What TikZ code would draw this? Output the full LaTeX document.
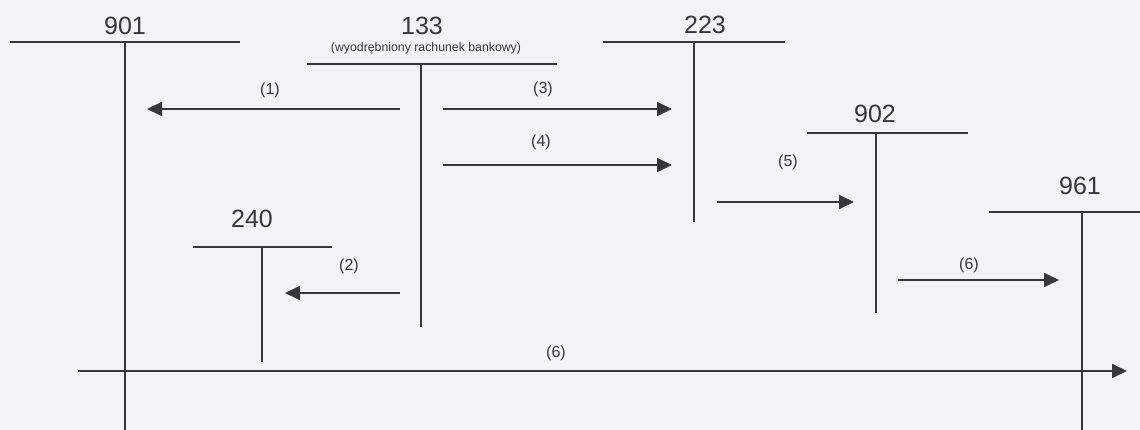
\documentclass[tikz,border=0pt]{standalone}
\usepackage{fontspec}
\setmainfont{Liberation Sans}
\usetikzlibrary{arrows.meta}
\definecolor{paper}{RGB}{243,243,245}
\definecolor{ink}{RGB}{55,55,58}
\begin{document}
\begin{tikzpicture}[x=1pt,y=-1pt,
  acc/.style={draw=ink,line width=1.8pt},
  flow/.style={draw=ink,line width=1.8pt,-{Triangle[length=15pt,width=14pt]}},
  num/.style={anchor=base,inner sep=0pt,text=ink,font=\fontsize{25}{25}\selectfont},
  lab/.style={anchor=base,inner sep=0pt,text=ink,font=\fontsize{16}{16}\selectfont},
  subt/.style={anchor=base,inner sep=0pt,text=ink,font=\fontsize{12.3}{12.3}\selectfont}
]
\fill[paper] (0,0) rectangle (1140,430);
\useasboundingbox (0,0) rectangle (1140,430);

% account 901
\coordinate (a901L) at (10,42);
\coordinate (a901R) at (240,42);
\coordinate (a901T) at (125,42);
\coordinate (a901B) at (125,430);
\draw[acc] (a901L) -- (a901R);
\draw[acc] (a901T) -- (a901B);
\node[num] (t901) at (125,35) {901};

% account 133
\coordinate (a133L) at (307,64);
\coordinate (a133R) at (557,64);
\coordinate (a133T) at (421,64);
\coordinate (a133B) at (421,327);
\draw[acc] (a133L) -- (a133R);
\draw[acc] (a133T) -- (a133B);
\node[num] (t133) at (422,35) {133};
\node[subt] (s133) at (426,52) {(wyodrębniony rachunek bankowy)};

% account 223
\coordinate (a223L) at (603,42);
\coordinate (a223R) at (785,42);
\coordinate (a223T) at (694,42);
\coordinate (a223B) at (694,222);
\draw[acc] (a223L) -- (a223R);
\draw[acc] (a223T) -- (a223B);
\node[num] (t223) at (705,34) {223};

% account 902
\coordinate (a902L) at (807,133);
\coordinate (a902R) at (968,133);
\coordinate (a902T) at (876,133);
\coordinate (a902B) at (876,313);
\draw[acc] (a902L) -- (a902R);
\draw[acc] (a902T) -- (a902B);
\node[num] (t902) at (875,123) {902};

% account 961
\coordinate (a961L) at (989,212);
\coordinate (a961R) at (1140,212);
\coordinate (a961T) at (1082,212);
\coordinate (a961B) at (1082,430);
\draw[acc] (a961L) -- (a961R);
\draw[acc] (a961T) -- (a961B);
\node[num] (t961) at (1080,195) {961};

% account 240
\coordinate (a240L) at (193,247);
\coordinate (a240R) at (332,247);
\coordinate (a240T) at (262,247);
\coordinate (a240B) at (262,362);
\draw[acc] (a240L) -- (a240R);
\draw[acc] (a240T) -- (a240B);
\node[num] (t240) at (252,228) {240};

% flows
\coordinate (f1s) at (400,109); \coordinate (f1e) at (147,109);
\draw[flow] (f1s) -- (f1e);
\node[lab] (l1) at (270,95) {(1)};

\coordinate (f3s) at (443,109); \coordinate (f3e) at (672,109);
\draw[flow] (f3s) -- (f3e);
\node[lab] (l3) at (543,94) {(3)};

\coordinate (f4s) at (443,165); \coordinate (f4e) at (672,165);
\draw[flow] (f4s) -- (f4e);
\node[lab] (l4) at (541,147) {(4)};

\coordinate (f5s) at (717,202); \coordinate (f5e) at (854,202);
\draw[flow] (f5s) -- (f5e);
\node[lab] (l5) at (788,167) {(5)};

\coordinate (f6s) at (898,280); \coordinate (f6e) at (1059,280);
\draw[flow] (f6s) -- (f6e);
\node[lab] (l6) at (969,270) {(6)};

\coordinate (f2s) at (400,293); \coordinate (f2e) at (285,293);
\draw[flow] (f2s) -- (f2e);
\node[lab] (l2) at (349,271) {(2)};

\coordinate (f7s) at (78,371); \coordinate (f7e) at (1127,371);
\draw[flow] (f7s) -- (f7e);
\node[lab] (l7) at (556,357) {(6)};
\end{tikzpicture}
\end{document}
